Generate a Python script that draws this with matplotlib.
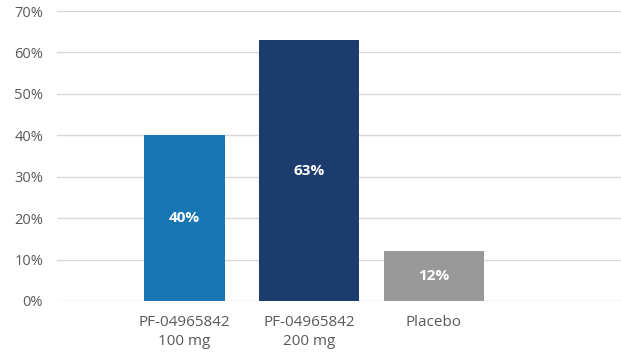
import matplotlib
matplotlib.use("Agg")
import matplotlib.pyplot as plt

categories = ["PF-04965842\n100 mg", "PF-04965842\n200 mg", "Placebo"]
values = [40, 63, 12]
labels = ["40%", "63%", "12%"]
colors = ["#1877b2", "#1d3c6e", "#999999"]
widths = [0.65, 0.8, 0.8]
yticks = [0, 10, 20, 30, 40, 50, 60, 70]

plt.rcParams['font.family'] = ['Open Sans', 'DejaVu Sans']

fig = plt.figure(figsize=(6.21, 3.56), dpi=100)
ax = fig.add_axes([0.0918, 0.1545, 0.9082, 0.8145])

x = list(range(len(categories)))
bars = ax.bar(x, values, width=widths, color=colors, zorder=3)
for b, lab in zip(bars, labels):
    ax.text(b.get_x() + b.get_width() / 2, b.get_height() / 2, lab,
            ha='center', va='center', color='white', fontsize=11,
            fontweight='bold', zorder=4)

ax.set_ylim(0, 70)
ax.set_xlim(-1.02, 3.5)
ax.set_yticks(yticks)
ax.set_yticklabels([f"{t}%" for t in yticks], fontsize=10.5)
ax.set_xticks(x)
ax.set_xticklabels(categories, fontsize=11, linespacing=1.35)
ax.grid(axis='y', color='#d9d9d9', linewidth=1, zorder=0)
for s in ax.spines.values():
    s.set_visible(False)
ax.tick_params(axis='both', length=0, colors='#595959')
ax.tick_params(axis='y', pad=10)
ax.tick_params(axis='x', pad=10)

fig.savefig("out.png", dpi=100)
